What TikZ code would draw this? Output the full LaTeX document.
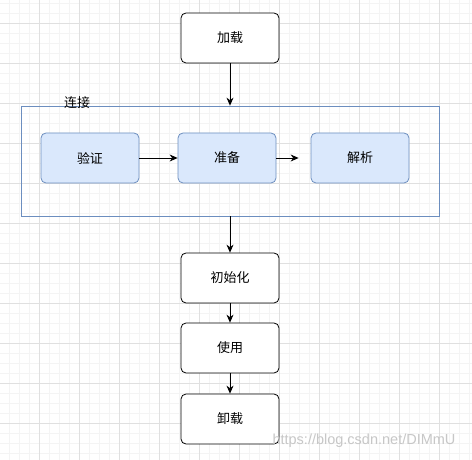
\documentclass[tikz,border=0pt]{standalone}
\usepackage{fontspec}
\setmainfont{Noto Sans CJK SC}
\newfontfamily\markfont{Liberation Sans}
\usetikzlibrary{arrows.meta}
\definecolor{boxblue}{HTML}{DAE8FC}
\definecolor{lineblue}{HTML}{6C8EBF}
\definecolor{minorgrid}{HTML}{F4F4F4}
\definecolor{majorgrid}{HTML}{E0E0E0}

\begin{document}
\begin{tikzpicture}[
    x=1pt, y=-1pt,
    every node/.style={font=\fontsize{13}{15}\selectfont},
    stage/.style={draw, rounded corners=5pt, minimum width=98pt, minimum height=50pt, fill=white, line width=0.8pt},
    substage/.style={stage, draw=lineblue, fill=boxblue},
    flow/.style={-{Stealth[length=8pt,width=7pt]}, line width=0.8pt}
  ]
    \useasboundingbox (0,0) rectangle (472,460);
    \fill[white] (0,0) rectangle (472,460);
    \foreach \gx in {9.3,19.3,...,469.3} \draw[minorgrid] (\gx,0) -- (\gx,460);
    \foreach \gy in {3.3,13.3,...,453.3} \draw[minorgrid] (0,\gy) -- (472,\gy);
    \foreach \gx in {39.3,79.3,...,439.3} \draw[majorgrid] (\gx,0) -- (\gx,460);
    \foreach \gy in {23.3,63.3,...,423.3} \draw[majorgrid] (0,\gy) -- (472,\gy);

    \node[stage] (load) at (230,38) {加载};
    \node[draw=lineblue, line width=0.8pt, minimum width=418pt, minimum height=110pt] (link) at (230,161) {};
    \node (linklabel) at (77,103) {连接};
    \node[substage] (verify) at (90,158) {验证};
    \node[substage] (prepare) at (227,158) {准备};
    \node[substage] (resolve) at (360,158) {解析};
    \node[stage] (init) at (230,278) {初始化};
    \node[stage] (use) at (230,348) {使用};
    \node[stage] (unload) at (230,419) {卸载};

    \draw[flow] (load) -- (link);
    \draw[flow] (verify) -- (prepare);
    \draw[flow, shorten >=12pt] (prepare) -- (resolve);
    \draw[flow] (link) -- (init);
    \draw[flow] (init) -- (use);
    \draw[flow] (use) -- (unload);

    \node[text=black!22, font=\markfont\fontsize{14.5}{16}\selectfont] (mark) at (364,441) {https://blog.csdn.net/DIMmU};
  \end{tikzpicture}
\end{document}
